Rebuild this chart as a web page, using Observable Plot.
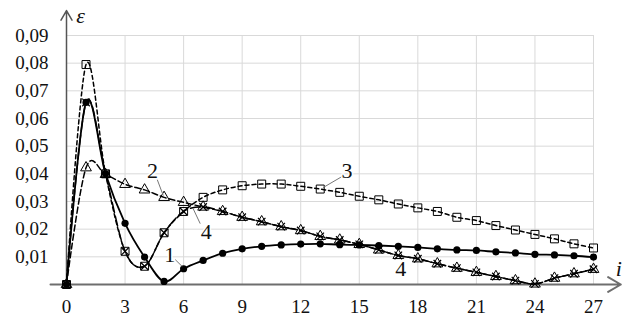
<!DOCTYPE html>
<html>
<head>
<meta charset="utf-8">
<script src="https://cdn.jsdelivr.net/npm/d3@7"></script>
<script src="https://cdn.jsdelivr.net/npm/@observablehq/plot@0.6"></script>
<style>
  html, body { margin: 0; padding: 0; background: #fff; }
  #chart svg { display: block; }
</style>
</head>
<body>
<div id="chart"></div>
<script>
const idx = d3.range(0, 28);
const s1 = [0, 0.0658, 0.0400, 0.0221, 0.0099, 0.0011, 0.0057, 0.0087, 0.0113, 0.0129, 0.0138, 0.0143, 0.0146, 0.0147, 0.0144, 0.0143, 0.0141, 0.0138, 0.0134, 0.0129, 0.0125, 0.0123, 0.0118, 0.0114, 0.0109, 0.0107, 0.0104, 0.0099];
const s2 = [0, 0.0422, 0.0398, 0.0362, 0.0342, 0.0315, 0.0297, 0.0280, 0.0264, 0.0243, 0.0227, 0.0209, 0.0195, 0.0174, 0.0161, 0.0145, 0.0125, 0.0105, 0.0093, 0.0075, 0.0059, 0.0044, 0.0029, 0.0014, 0.0002, 0.0023, 0.0039, 0.0055];
const s3 = [0, 0.0795, 0.0400, 0.0120, 0.0066, 0.0187, 0.0264, 0.0315, 0.0342, 0.0357, 0.0363, 0.0363, 0.0355, 0.0345, 0.0333, 0.0319, 0.0306, 0.0291, 0.0277, 0.0264, 0.0243, 0.0231, 0.0213, 0.0197, 0.0181, 0.0165, 0.0147, 0.0132];
const s4 = [0, 0.0658, 0.0400, 0.0120, 0.0066, 0.0187, 0.0264, 0.0280, 0.0264, 0.0243, 0.0227, 0.0209, 0.0195, 0.0174, 0.0161, 0.0145, 0.0125, 0.0105, 0.0093, 0.0075, 0.0059, 0.0044, 0.0029, 0.0014, 0.0002, 0.0023, 0.0039, 0.0055];
const xTicks = [0, 3, 6, 9, 12, 15, 18, 21, 24, 27];
const yTicks = [0.01, 0.02, 0.03, 0.04, 0.05, 0.06, 0.07, 0.08, 0.09];
const seriesLabels = [
  {t: "1", x: 5.29, y: 0.0105, x1: 5.57, y1: 0.0090, x2: 5.93, y2: 0.0065},
  {t: "2", x: 4.40, y: 0.0412, x1: 4.65, y1: 0.0379, x2: 4.96, y2: 0.0321},
  {t: "3", x: 14.37, y: 0.0412, x1: 14.11, y1: 0.0390, x2: 13.14, y2: 0.0350},
  {t: "4", x: 7.16, y: 0.0191, x1: 6.85, y1: 0.0220, x2: 6.49, y2: 0.0274},
  {t: "4", x: 17.13, y: 0.0058, x1: null, y1: null, x2: null, y2: null}
];

const mk = (s) => idx.map((i) => ({i, v: s[i]}));
const d1 = mk(s1), d2 = mk(s2), d3s = mk(s3), d4 = mk(s4);
const fmt = (d) => d3.format(".2f")(d).replace(".", ",");
const serif = "Times New Roman, Liberation Serif, DejaVu Serif, serif";
const curve = "cardinal";

const chart = Plot.plot({
  width: 632,
  height: 318,
  marginLeft: 66,
  marginRight: 39,
  marginTop: 35,
  marginBottom: 34,
  style: {fontFamily: serif, fontSize: "19px", color: "#111", background: "#fff", overflow: "visible"},
  x: {domain: [0, 27]},
  y: {domain: [0, 0.09]},
  marks: [
    Plot.ruleX(xTicks.slice(1), {y1: 0, y2: 0.09, stroke: "#d9d9d9", strokeWidth: 1}),
    Plot.ruleY(yTicks, {x1: 0, x2: 27, stroke: "#d9d9d9", strokeWidth: 1}),
    Plot.axisX({ticks: xTicks, tickFormat: (d) => String(d), tickSize: 0, tickPadding: 15, label: null, fontFamily: serif, fontSize: 19, fill: "#111"}),
    Plot.axisY({ticks: yTicks, tickFormat: fmt, tickSize: 0, tickPadding: 18, label: null, fontFamily: serif, fontSize: 19, fill: "#111"}),
    Plot.arrow([0], {x1: -0.82, x2: 28.4, y1: 0, y2: 0, stroke: "#6e6e6e", strokeWidth: 2, headLength: 11, clip: false}),
    Plot.arrow([0], {x1: 0, x2: 0, y1: 0, y2: 0.099, stroke: "#555", strokeWidth: 1.5, headLength: 11, clip: false}),
    Plot.line(d3s, {x: "i", y: "v", curve, stroke: "#000", strokeWidth: 1.5, strokeDasharray: "4,3"}),
    Plot.line(d4, {x: "i", y: "v", curve, stroke: "#000", strokeWidth: 1.5, strokeDasharray: "10,4"}),
    Plot.line(d2, {x: "i", y: "v", curve, stroke: "#000", strokeWidth: 1.5, strokeDasharray: "6,3"}),
    Plot.line(d1, {x: "i", y: "v", curve, stroke: "#000", strokeWidth: 1.8}),
    Plot.dot(d3s, {x: "i", y: "v", symbol: "square", r: 4.5, stroke: "#000", fill: "none", strokeWidth: 1}),
    Plot.dot(d2, {x: "i", y: "v", symbol: "triangle", r: 4, stroke: "#000", fill: "none", strokeWidth: 1}),
    Plot.dot(d4, {x: "i", y: "v", symbol: "times", r: 3.5, stroke: "#000", strokeWidth: 1.2}),
    Plot.dot(d1, {x: "i", y: "v", symbol: "circle", r: 3.6, fill: "#000", stroke: "none"}),
    Plot.link(seriesLabels.filter((d) => d.x1 != null), {x1: "x1", y1: "y1", x2: "x2", y2: "y2", stroke: "#777", strokeWidth: 1}),
    Plot.text(seriesLabels, {x: "x", y: "y", text: "t", fontFamily: serif, fontSize: 22, fill: "#111", stroke: "#fff", strokeWidth: 3, paintOrder: "stroke"}),
    Plot.text(["ε"], {x: 0.72, y: 0.0971, text: (d) => d, fontFamily: serif, fontSize: 22, fontStyle: "italic", fill: "#111", clip: false}),
    Plot.text(["i"], {x: 28.3, y: 0.0058, text: (d) => d, fontFamily: serif, fontSize: 22, fontStyle: "italic", fill: "#111", clip: false})
  ]
});
document.getElementById("chart").appendChild(chart);
</script>
</body>
</html>
